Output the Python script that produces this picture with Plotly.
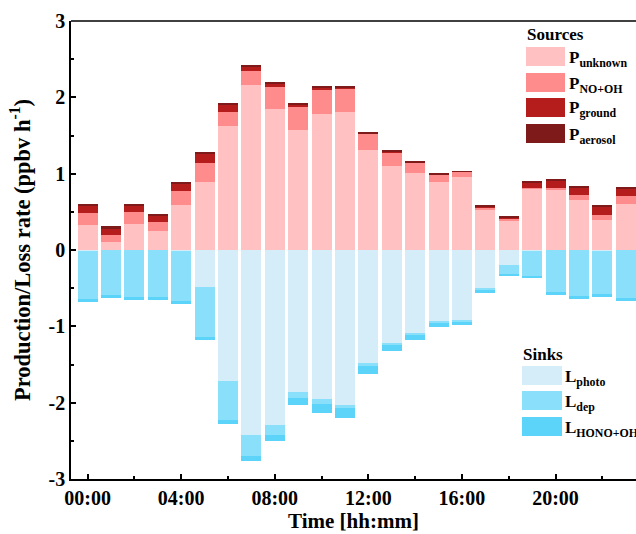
import plotly.graph_objects as go

# ---------------- data ----------------
hours = list(range(24))
x_tick_vals = [0, 4, 8, 12, 16, 20]
x_tick_text = ["00:00", "04:00", "08:00", "12:00", "16:00", "20:00"]
y_tick_vals = [3, 2, 1, 0, -1, -2, -3]
y_tick_text = ["3", "2", "1", "0", "-1", "-2", "-3"]

p_unknown = [0.33, 0.105, 0.34, 0.25, 0.59, 0.89, 1.625, 2.16, 1.85, 1.57, 1.78, 1.81,
             1.31, 1.10, 1.01, 0.89, 0.956, 0.537, 0.38, 0.80, 0.786, 0.655, 0.393, 0.603]
p_no_oh = [0.16, 0.092, 0.157, 0.118, 0.183, 0.25, 0.183, 0.183, 0.29, 0.30, 0.327, 0.30,
           0.21, 0.18, 0.14, 0.105, 0.066, 0.026, 0.03, 0.018, 0.031, 0.065, 0.066, 0.104]
p_ground = [0.09, 0.09, 0.087, 0.083, 0.092, 0.13, 0.10, 0.065, 0.04, 0.04, 0.026, 0.017,
            0.01, 0.005, 0.0, 0.0, 0.0, 0.013, 0.022, 0.065, 0.091, 0.097, 0.109, 0.096]
p_aerosol = [0.02, 0.026, 0.018, 0.022, 0.022, 0.013, 0.014, 0.014, 0.013, 0.013, 0.013, 0.013,
             0.02, 0.013, 0.017, 0.013, 0.013, 0.013, 0.013, 0.022, 0.022, 0.021, 0.022, 0.022]

l_photo = [-0.01, 0.0, 0.0, 0.0, -0.01, -0.485, -1.716, -2.42, -2.29, -1.86, -1.95, -2.03,
           -1.49, -1.23, -1.09, -0.94, -0.93, -0.50, -0.20, -0.01, 0.0, 0.0, -0.01, 0.0]
l_dep = [-0.63, -0.59, -0.616, -0.616, -0.66, -0.655, -0.51, -0.28, -0.13, -0.08, -0.065, -0.04,
         -0.026, -0.013, -0.026, -0.013, -0.013, -0.026, -0.117, -0.33, -0.55, -0.60, -0.565, -0.63]
l_hono_oh = [-0.04, -0.04, -0.04, -0.04, -0.04, -0.04, -0.05, -0.065, -0.08, -0.09, -0.118, -0.13,
             -0.105, -0.078, -0.065, -0.053, -0.04, -0.04, -0.026, -0.027, -0.04, -0.04, -0.04, -0.04]

sources = [
    ("P<sub>unknown</sub>", p_unknown, "#FFC1C1"),
    ("P<sub>NO+OH</sub>", p_no_oh, "#FF8C8C"),
    ("P<sub>ground</sub>", p_ground, "#B51C1C"),
    ("P<sub>aerosol</sub>", p_aerosol, "#7E1A1A"),
]
sinks = [
    ("L<sub>photo</sub>", l_photo, "#D5EDF8"),
    ("L<sub>dep</sub>", l_dep, "#8ADFFA"),
    ("L<sub>HONO+OH</sub>", l_hono_oh, "#5CD3F8"),
]

FONT = "Liberation Serif"
W, H = 636, 534
ML, MR, MT, MB = 71, 0, 21, 55

fig = go.Figure()
for name, vals, col in sources + sinks:
    fig.add_trace(go.Bar(x=hours, y=vals, name=name, width=0.855,
                         marker=dict(color=col, line=dict(width=0)),
                         showlegend=False))

# ---------------- custom legend ----------------
pw, ph = W - ML - MR, H - MT - MB


def px2paper(x, y):
    return (x - ML) / pw, (H - MB - y) / ph


shapes = []
annotations = []


def legend_block(title, title_xy, items, x0, x1, rows, text_x):
    tx, ty = px2paper(*title_xy)
    annotations.append(dict(text="<b>%s</b>" % title, x=tx, y=ty, xref="paper", yref="paper",
                            xanchor="left", yanchor="middle", showarrow=False,
                            font=dict(family=FONT, size=17, color="black")))
    for (name, _, col), (y0, y1) in zip(items, rows):
        a0, b0 = px2paper(x0, y1)
        a1, b1 = px2paper(x1, y0)
        shapes.append(dict(type="rect", xref="paper", yref="paper", x0=a0, x1=a1, y0=b0, y1=b1,
                           fillcolor=col, line=dict(width=0)))
        lx, ly = px2paper(text_x, (y0 + y1) / 2 + 2)
        annotations.append(dict(text="<b>%s</b>" % name, x=lx, y=ly, xref="paper", yref="paper",
                                xanchor="left", yanchor="middle", showarrow=False,
                                font=dict(family=FONT, size=17, color="black")))


legend_block("Sources", (525, 35), sources, 526, 565,
             [(47, 66), (73, 92), (98, 117), (124, 143)], 567)
legend_block("Sinks", (521, 354), sinks, 522, 562,
             [(366, 385), (391, 410), (417, 436)], 563)

# top frame line
shapes.append(dict(type="line", xref="paper", yref="paper", x0=0, x1=1, y0=1, y1=1,
                   line=dict(color="black", width=1.5)))

fig.update_layout(
    width=W, height=H,
    margin=dict(l=ML, r=MR, t=MT, b=MB, pad=0),
    barmode="relative",
    bargap=0,
    plot_bgcolor="white", paper_bgcolor="white",
    font=dict(family=FONT, color="black"),
    shapes=shapes,
    annotations=annotations,
)
fig.update_xaxes(
    range=[-0.71, 23.44],
    tickvals=x_tick_vals, ticktext=["<b>%s</b>" % t for t in x_tick_text],
    tickfont=dict(family=FONT, size=20, color="black"),
    ticks="inside", ticklen=5, tickwidth=1.5, tickcolor="black",
    minor=dict(tickvals=[2, 6, 10, 14, 18, 22], ticks="inside", ticklen=3, tickwidth=1.5, tickcolor="black"),
    showline=True, linecolor="black", linewidth=1.5,
    showgrid=False, zeroline=False,
    title=dict(text="<b>Time [hh:mm]</b>", font=dict(family=FONT, size=21, color="black"), standoff=4),
)
fig.update_yaxes(
    range=[-3, 3],
    tickvals=y_tick_vals, ticktext=["<b>%s</b>" % t for t in y_tick_text],
    tickfont=dict(family=FONT, size=20, color="black"),
    ticks="inside", ticklen=5, tickwidth=1.5, tickcolor="black",
    minor=dict(tickvals=[2.5, 1.5, 0.5, -0.5, -1.5, -2.5], ticks="inside", ticklen=3, tickwidth=1.5, tickcolor="black"),
    showline=True, linecolor="black", linewidth=1.5,
    showgrid=False, zeroline=False,
    title=dict(text="<b>Production/Loss rate (ppbv h<sup>-1</sup>)</b>",
               font=dict(family=FONT, size=22.5, color="black"), standoff=12),
)

fig.write_html("out.html")
